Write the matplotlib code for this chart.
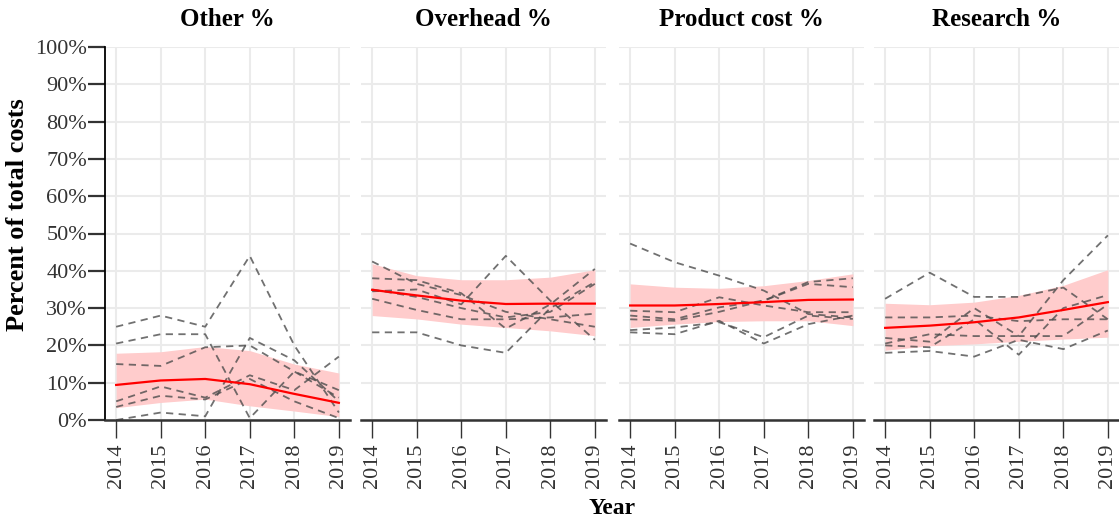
import numpy as np
import matplotlib as mpl
mpl.use('Agg')
import matplotlib.pyplot as plt

plt.rcParams['font.family'] = ['Liberation Serif', 'DejaVu Serif']

years = [2014, 2015, 2016, 2017, 2018, 2019]
panels = ['Other %', 'Overhead %', 'Product cost %', 'Research %']

# individual series (percent), one list of lines per panel
other = [
    [25, 28, 25, 44, 20, 2],
    [20.5, 23, 23, 0.5, 13, 8],
    [15, 14.5, 19.5, 20, 13, 6],
    [5, 9, 6, 12, 8, 17],
    [3.5, 6.5, 5.5, 11, 5, 0.5],
    [0, 2, 1, 22, 16, 5],
]
overhead = [
    [42.5, 36.5, 33.5, 29, 27, 25],
    [38, 37.5, 34, 24.5, 31, 40.5],
    [35, 33, 30, 27.5, 29, 36.5],
    [32.5, 29.5, 27, 27, 27.5, 28.5],
    [23.5, 23.5, 20, 18, 30, 37],
    [34.5, 35, 31, 44, 32, 21.5],
]
product = [
    [47.3, 42.3, 38.7, 34.7, 28.4, 27.5],
    [29.3, 28.9, 32.9, 30.7, 28.9, 28.9],
    [28, 27, 30.2, 32, 37, 38],
    [27, 26.6, 29, 32, 36.5, 35.6],
    [24.1, 24.8, 26.2, 22.2, 28, 27.1],
    [23.5, 23, 26.6, 20.5, 25.7, 28],
]
research = [
    [32.5, 39.5, 33, 33, 35.5, 27],
    [27.5, 27.5, 28, 26.5, 27, 27],
    [22, 21, 30, 22.5, 22.5, 31],
    [20.5, 23, 22.5, 22.5, 37.5, 49.5],
    [20, 19.5, 27, 17.5, 30, 33.5],
    [18, 18.5, 17, 21.5, 19, 24],
]
series = [other, overhead, product, research]

# smoothed trend and its band (percent)
trend = [
    [9.4, 10.6, 11.0, 9.6, 7.0, 4.6],
    [34.9, 33.4, 32.0, 31.1, 31.2, 31.2],
    [30.7, 30.7, 31.1, 31.6, 32.2, 32.3],
    [24.7, 25.3, 26.2, 27.5, 29.5, 31.6],
]
band_lo = [
    [3.3, 4.7, 5.6, 3.8, 2.4, 0.9],
    [28.0, 27.1, 25.7, 24.8, 23.9, 22.6],
    [24.8, 25.7, 26.4, 26.6, 26.6, 25.3],
    [18.7, 19.9, 20.4, 21.1, 21.7, 22.2],
]
band_hi = [
    [17.9, 18.3, 19.7, 18.6, 15.0, 12.6],
    [41.9, 38.7, 37.6, 37.6, 38.3, 40.3],
    [36.5, 35.6, 35.3, 36.0, 37.4, 39.2],
    [31.3, 30.9, 31.6, 33.4, 36.1, 40.3],
]

W, H = 1119, 520
fig = plt.figure(figsize=(W / 100, H / 100), dpi=100)
lefts = [105, 361, 619, 874]
pw = 245
for i, name in enumerate(panels):
    ax = fig.add_axes([lefts[i] / W, (H - 420) / H, pw / W, 373 / H])
    ax.set_xlim(2013.75, 2019.25)
    ax.set_ylim(0, 100)
    for x in years:
        ax.axvline(x, color='#ebebeb', lw=1.5, zorder=0)
    for y in range(0, 101, 10):
        ax.axhline(y, color='#ebebeb', lw=1.5, zorder=0)
    ax.fill_between(years, band_lo[i], band_hi[i], color='#ffcccc', lw=0, zorder=1)
    for s in series[i]:
        ax.plot(years, s, color='#4d4d4d', alpha=0.8, lw=1.3, ls=(0, (4, 3)), zorder=2, clip_on=False)
    ax.plot(years, trend[i], color='red', lw=1.6, zorder=3)
    ax.set_title(name, fontsize=18, fontweight='bold', pad=15)
    for sp in ['top', 'right']:
        ax.spines[sp].set_visible(False)
    ax.spines['bottom'].set_color('#333333')
    ax.spines['bottom'].set_linewidth(1.8)
    ax.set_xticks(years)
    ax.set_xticklabels([str(y) for y in years], rotation=90, fontsize=16, color='#333333')
    ax.tick_params(axis='x', length=13, width=1.0, color='#333333', pad=4)
    ax.set_yticks(range(0, 101, 10))
    if i == 0:
        ax.spines['left'].set_color('black')
        ax.spines['left'].set_linewidth(1.3)
        ax.set_yticklabels(['%d%%' % v for v in range(0, 101, 10)], fontsize=16, color='#333333')
        ax.tick_params(axis='y', length=12, width=1.6, color='#333333', pad=1)
        ax.set_ylabel('Percent of total costs', fontsize=19, fontweight='bold')
        ax.yaxis.set_label_coords(-0.31, 0.55)
    else:
        ax.spines['left'].set_visible(False)
        ax.tick_params(axis='y', length=0, labelleft=False)

fig.text(612 / W, 1 - 508 / H, 'Year', ha='center', va='center', fontsize=17, fontweight='bold')
plt.savefig('out.png', dpi=100)
